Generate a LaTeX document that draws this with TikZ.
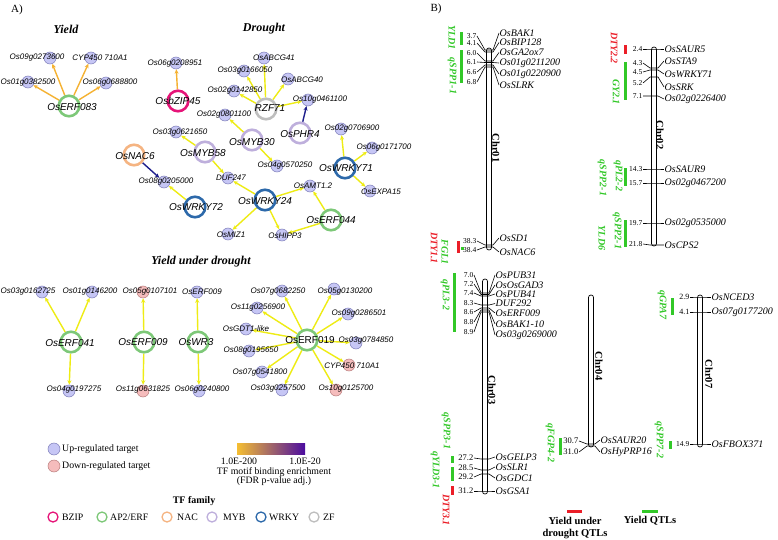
\documentclass[tikz,border=0pt]{standalone}
\usepackage{fontspec}
\setmainfont{Liberation Serif}
\newfontfamily\arialf{Liberation Sans}
\usetikzlibrary{arrows.meta}
\pgfdeclarelayer{bg}
\pgfdeclarelayer{edges}
\pgfsetlayers{bg,edges,main}
\definecolor{upfill}{RGB}{198,198,245}
\definecolor{updraw}{RGB}{125,125,185}
\definecolor{dnfill}{RGB}{245,188,188}
\definecolor{dndraw}{RGB}{185,125,125}
\definecolor{yel}{RGB}{238,236,20}
\definecolor{orgc}{RGB}{245,178,50}
\definecolor{navyc}{RGB}{30,30,140}
\definecolor{bzipc}{RGB}{230,20,120}
\definecolor{erfc}{RGB}{125,200,120}
\definecolor{nacc}{RGB}{245,180,130}
\definecolor{mybc}{RGB}{190,175,220}
\definecolor{wrkyc}{RGB}{45,105,170}
\definecolor{zfc}{RGB}{190,190,190}
\definecolor{qgreen}{RGB}{50,200,40}
\definecolor{qred}{RGB}{235,30,40}
\definecolor{gA}{RGB}{245,190,50}
\definecolor{gB}{RGB}{205,70,120}
\definecolor{gC}{RGB}{75,12,160}
\newcount\mkc
\newcommand\chrmark[9]{%
  \global\advance\mkc by 1
  \draw[tick] (#1,#4) -- (#2-4,#5) -- (#2+4,#5) -- (#3,#6);
  \node[numf,font=\fontsize{#9}{#9}\selectfont,anchor=east] (mn\the\mkc) at (#1-0.5,#4) {#7};
  \node[genf,anchor=west] (mg\the\mkc) at (#3+0.5,#6) {#8};
}
\begin{document}
\begin{tikzpicture}[x=1pt,y=-1pt,
  tgt/.style={circle,fill=upfill,draw=updraw,line width=0.5pt,minimum size=12pt,inner sep=0pt},
  tgd/.style={tgt,fill=dnfill,draw=dndraw},
  tfr/.style={circle,draw,line width=2.6pt,fill=white,minimum size=20.5pt,inner sep=0pt},
  glab/.style={font=\arialf\itshape\fontsize{8}{8}\selectfont,inner sep=0pt},
  tlab/.style={font=\arialf\itshape\fontsize{10}{10}\selectfont,inner sep=0pt},
  ye/.style={draw=yel,line width=1.4pt,-{Stealth[length=4.5pt,width=4pt]}},
  oe/.style={ye,draw=orgc},
  ne/.style={ye,draw=navyc},
  ttl/.style={font=\bfseries\itshape\fontsize{12}{12}\selectfont,inner sep=0pt},
  lfont/.style={font=\fontsize{9.8}{9.8}\selectfont,inner sep=0pt},
  fam/.style={circle,draw,line width=1.3pt,minimum size=10pt,inner sep=0pt},
  chr/.style={draw=black,line width=0.7pt,fill=white,rounded corners=2.4pt},
  tick/.style={draw=black,line width=0.6pt},
  numf/.style={inner sep=0pt},
  genf/.style={font=\itshape\fontsize{10}{10}\selectfont,inner sep=0pt},
  qtl/.style={font=\bfseries\itshape\fontsize{10}{10}\selectfont,rotate=-90,inner sep=0pt},
  chrl/.style={font=\bfseries\fontsize{10.5}{10.5}\selectfont,rotate=-90,inner sep=0pt},
  qg/.style={fill=qgreen},
  qr/.style={fill=qred}]
\useasboundingbox (0,0) rectangle (778,540);
\begin{pgfonlayer}{bg}
\fill[white] (0,0) rectangle (778,540);
\end{pgfonlayer}

% ---------- panel labels and titles
\node[font=\fontsize{11}{11}\selectfont,inner sep=0pt] (pA) at (17,10) {A)};
\node[font=\fontsize{11}{11}\selectfont,inner sep=0pt] (pB) at (436,9) {B)};
\node[ttl] (t1) at (66,29) {Yield};
\node[ttl] (t2) at (264,29) {Drought};
\node[ttl] (t3) at (201,262) {Yield under drought};

% ---------- Yield
\node[tfr,draw=erfc] (erf083) at (69,106) {};
\node[tgt] (y1) at (50,58) {};
\node[tgt] (y2) at (91,58) {};
\node[tgt] (y3) at (28,82) {};
\node[tgt] (y4) at (106,83) {};
\node[tlab] (erf083l) at (72,107) {OsERF083};
\node[glab] (y1l) at (37,58) {Os09g0273600};
\node[glab] (y2l) at (100,58) {CYP450 710A1};
\node[glab] (y3l) at (28,83) {Os01g0382500};
\node[glab] (y4l) at (110,83) {Os06g0688800};

% ---------- Drought
\node[tfr,draw=bzipc] (bzip45) at (178,101) {};
\node[tgt] (d1) at (176,63) {};
\node[tfr,draw=zfc] (rzf71) at (266,109) {};
\node[tgt] (d2) at (264,58) {};
\node[tgt] (d3) at (244,71) {};
\node[tgt] (d4) at (288,79) {};
\node[tgt] (d5) at (234,91) {};
\node[tgt] (d6) at (308,100) {};
\node[tfr,draw=mybc] (phr4) at (300,133) {};
\node[tfr,draw=mybc] (myb30) at (252,140) {};
\node[tgt] (d7) at (225,115) {};
\node[tgt] (d8) at (277,166) {};
\node[tfr,draw=mybc] (myb58) at (205,152) {};
\node[tgt] (d9) at (176,132) {};
\node[tgt] (d10) at (228,178) {};
\node[tfr,draw=nacc] (nac6) at (134,155) {};
\node[tgt] (d11) at (164,182) {};
\node[tfr,draw=wrkyc] (wrky72) at (195,207) {};
\node[tfr,draw=wrkyc] (wrky24) at (265,200) {};
\node[tgt] (d12) at (310,186) {};
\node[tgt] (d13) at (228,234) {};
\node[tgt] (d14) at (282,235) {};
\node[tfr,draw=erfc] (erf044) at (331,220) {};
\node[tfr,draw=wrkyc] (wrky71) at (345,168) {};
\node[tgt] (d15) at (341,129) {};
\node[tgt] (d16) at (372,148) {};
\node[tgt] (d17) at (370,191) {};

\node[tlab] (bzip45l) at (178,101) {OsbZIP45};
\node[glab] (d1l) at (175,64) {Os06g0208951};
\node[tlab] (rzf71l) at (270,108) {RZF71};
\node[glab] (d2l) at (274,58) {OsABCG41};
\node[glab] (d3l) at (245,71) {Os03g0166050};
\node[glab] (d4l) at (302,80) {OsABCG40};
\node[glab] (d5l) at (235,91) {Os02g0142850};
\node[glab] (d6l) at (320,100) {Os10g0461100};
\node[tlab] (phr4l) at (300,134) {OsPHR4};
\node[tlab] (myb30l) at (252,142) {OsMYB30};
\node[glab] (d7l) at (224,115) {Os02g0801100};
\node[glab] (d8l) at (285,166) {Os04g0570250};
\node[tlab] (myb58l) at (203,153) {OsMYB58};
\node[glab] (d9l) at (180,133) {Os03g0621650};
\node[glab] (d10l) at (231,178) {DUF247};
\node[tlab] (nac6l) at (135,156) {OsNAC6};
\node[glab] (d11l) at (166,182) {Os08g0205000};
\node[tlab] (wrky72l) at (196,207) {OsWRKY72};
\node[tlab] (wrky24l) at (265,201) {OsWRKY24};
\node[glab] (d12l) at (313,186) {OsAMT1.2};
\node[glab] (d13l) at (231,235) {OsMIZ1};
\node[glab] (d14l) at (285,236) {OsHIPP3};
\node[tlab] (erf044l) at (331,220) {OsERF044};
\node[tlab] (wrky71l) at (346,168) {OsWRKY71};
\node[glab] (d15l) at (352,129) {Os02g0706900};
\node[glab] (d16l) at (384,148) {Os06g0171700};
\node[glab] (d17l) at (381,192) {OsEXPA15};

% ---------- Yield under drought
\node[tfr,draw=erfc] (erf041) at (71,342) {};
\node[tgt] (u1) at (42,292) {};
\node[tgt] (u2) at (92,292) {};
\node[tgt] (u3) at (69,391) {};
\node[tfr,draw=erfc] (erf009) at (144,342) {};
\node[tgd] (u4) at (143,292) {};
\node[tgd] (u5) at (143,391) {};
\node[tfr,draw=erfc] (wr3) at (198,342) {};
\node[tgt] (u6) at (197,292) {};
\node[tgt] (u7) at (199,391) {};
\node[tfr,draw=erfc] (erf019) at (307,340) {};
\node[tgt] (u8) at (282,291) {};
\node[tgt] (u9) at (334,289) {};
\node[tgt] (u10) at (257,308) {};
\node[tgt] (u11) at (348,314) {};
\node[tgt] (u12) at (246,329) {};
\node[tgt] (u13) at (356,343) {};
\node[tgt] (u14) at (249,351) {};
\node[tgd] (u15) at (349,365) {};
\node[tgt] (u16) at (262,372) {};
\node[tgt] (u17) at (282,390) {};
\node[tgd] (u18) at (336,390) {};

\node[tlab] (erf041l) at (70,343) {OsERF041};
\node[glab] (u1l) at (28,292) {Os03g0162725};
\node[glab] (u2l) at (90,292) {Os01g0146200};
\node[glab] (u3l) at (74,390) {Os04g0197275};
\node[tlab] (erf009l) at (143,342) {OsERF009};
\node[glab] (u4l) at (150,292) {Os05g0107101};
\node[glab] (u5l) at (143,390) {Os11g0631825};
\node[tlab] (wr3l) at (196,342) {OsWR3};
\node[glab] (u6l) at (202,292) {OsERF009};
\node[glab] (u7l) at (202,390) {Os06g0240800};
\node[tlab,font=\arialf\fontsize{10}{10}\selectfont] (erf019l) at (310,340) {OsERF019};
\node[glab] (u8l) at (278,292) {Os07g0682250};
\node[glab] (u9l) at (345,292) {Os05g0130200};
\node[glab] (u10l) at (258,308) {Os11g0256900};
\node[glab] (u11l) at (359,314) {Os09g0286501};
\node[glab] (u12l) at (246,329) {OsGDT1-like};
\node[glab] (u13l) at (366,341) {Os03g0784850};
\node[glab] (u14l) at (251,351) {Os08g0195650};
\node[glab] (u15l) at (352,366) {CYP450 710A1};
\node[glab] (u16l) at (260,373) {Os07g0541800};
\node[glab] (u17l) at (278,389) {Os03g0257500};
\node[glab] (u18l) at (346,389) {Os10g0125700};

\begin{pgfonlayer}{edges}
\foreach \t in {y1,y2,y3,y4} \draw[oe] (erf083) -- (\t);
\draw[oe] (bzip45) -- (d1);
\foreach \t in {d2,d3,d4,d5,d6} \draw[ye] (rzf71) -- (\t);
\draw[ne] (phr4) -- (d6);
\draw[ye] (myb30) -- (d7);
\draw[ye] (myb30) -- (d8);
\draw[ye] (myb58) -- (d9);
\draw[ye] (myb58) -- (d10);
\draw[ne] (nac6) -- (d11);
\draw[ye] (wrky72) -- (d11);
\foreach \t in {d10,d12,d13,d14} \draw[ye] (wrky24) -- (\t);
\draw[ye] (erf044) -- (d12);
\draw[ye] (erf044) -- (d14);
\foreach \t in {d15,d16,d17} \draw[ye] (wrky71) -- (\t);
\foreach \t in {u1,u2,u3} \draw[ye] (erf041) -- (\t);
\foreach \t in {u4,u5} \draw[ye] (erf009) -- (\t);
\foreach \t in {u6,u7} \draw[ye] (wr3) -- (\t);
\foreach \t in {u8,u9,u10,u11,u12,u13,u14,u15,u16,u17,u18} \draw[ye] (erf019) -- (\t);
\end{pgfonlayer}

% ---------- legend A
\node[tgt] (lu) at (54,449) {};
\node[lfont,anchor=west] (lut) at (62,449) {Up-regulated target};
\node[tgd] (ld) at (54,466) {};
\node[lfont,anchor=west] (ldt) at (62,466) {Down-regulated target};
\shade[left color=gA,middle color=gB,right color=gC] (237,443) rectangle (305,454);
\node[lfont] (g1t) at (239,461) {1.0E-200};
\node[lfont] (g2t) at (305,461) {1.0E-20};
\node[lfont] (g3t) at (274,472) {TF motif binding enrichment};
\node[lfont] (g4t) at (274,481) {(FDR p-value adj.)};
\node[lfont,font=\bfseries\fontsize{10}{10}\selectfont] (tff) at (194,501) {TF family};
\node[fam,draw=bzipc] (f1) at (53,517) {};
\node[lfont,anchor=west] (f1t) at (62,517) {BZIP};
\node[fam,draw=erfc] (f2) at (102,517) {};
\node[lfont,anchor=west] (f2t) at (110,517) {AP2/ERF};
\node[fam,draw=nacc] (f3) at (167,517) {};
\node[lfont,anchor=west] (f3t) at (177,517) {NAC};
\node[fam,draw=mybc] (f4) at (212,517) {};
\node[lfont,anchor=west] (f4t) at (223,517) {MYB};
\node[fam,draw=wrkyc] (f5) at (261,517) {};
\node[lfont,anchor=west] (f5t) at (269,517) {WRKY};
\node[fam,draw=zfc] (f6) at (314,517) {};
\node[lfont,anchor=west] (f6t) at (323,517) {ZF};

% ---------- panel B: chromosomes
\draw[chr] (486.5,48) rectangle (491.5,250);
\draw[chr] (651.5,47) rectangle (656.5,246);
\draw[chr] (482.5,279) rectangle (487.5,494);
\draw[chr] (588.5,295) rectangle (593.5,447);
\draw[chr] (697.5,295) rectangle (702.5,447);
\node[chrl] (c1) at (496,148) {Chr01};
\node[chrl] (c2) at (660,135) {Chr02};
\node[chrl] (c3) at (492,390) {Chr03};
\node[chrl] (c4) at (599,366) {Chr04};
\node[chrl] (c7) at (709,374) {Chr07};

% Chr01
\chrmark{477}{489}{499}{36}{50}{33}{3.7}{OsBAK1}{7.5}
\chrmark{477}{489}{499}{43}{52}{42.5}{4.1}{OsBIP128}{7.5}
\chrmark{477}{489}{499}{53}{61}{52.5}{6.0}{OsGA2ox7}{7.5}
\chrmark{477}{489}{499}{62}{62.5}{63}{6.1}{Os01g0211200}{7.5}
\chrmark{477}{489}{499}{72}{65}{74}{6.6}{Os01g0220900}{7.5}
\chrmark{477}{489}{499}{82}{67}{85}{6.8}{OsSLRK}{7.5}
\chrmark{477}{489}{499}{241}{245}{238}{38.3}{OsSD1}{7.5}
\chrmark{477}{489}{499}{250}{247}{252}{38.4}{OsNAC6}{7.5}
% Chr02
\chrmark{643}{654}{664}{49}{49}{49}{2.4}{OsSAUR5}{7.5}
\chrmark{643}{654}{664}{63}{68}{61}{4.3}{OsSTA9}{7.5}
\chrmark{643}{654}{664}{72}{70}{74}{4.5}{OsWRKY71}{7.5}
\chrmark{643}{654}{664}{83}{77}{87}{5.2}{OsSRK}{7.5}
\chrmark{643}{654}{664}{96}{96}{99}{7.1}{Os02g0226400}{7.5}
\chrmark{643}{654}{664}{169}{169}{169}{14.3}{OsSAUR9}{7.5}
\chrmark{643}{654}{664}{183}{183}{183}{15.7}{Os02g0467200}{7.5}
\chrmark{643}{654}{664}{223}{223}{223}{19.7}{Os02g0535000}{7.5}
\chrmark{643}{654}{664}{244}{245}{245}{21.8}{OsCPS2}{7.5}
% Chr03
\chrmark{474}{485}{495}{275}{293}{275}{7.0}{OsPUB31}{7.5}
\chrmark{474}{485}{495}{284}{294.5}{285}{7.2}{OsOsGAD3}{7.5}
\chrmark{474}{485}{495}{293}{296}{294}{7.4}{OsPUB41}{7.5}
\chrmark{474}{485}{495}{303}{305}{303.5}{8.3}{DUF292}{7.5}
\chrmark{474}{485}{495}{312}{308}{313}{8.6}{OsERF009}{7.5}
\chrmark{474}{485}{495}{322}{310}{324}{8.8}{OsBAK1-10}{7.5}
\chrmark{474}{485}{495}{332}{312}{335}{8.9}{Os03g0269000}{7.5}
\chrmark{474}{485}{495}{458}{459}{457}{27.2}{OsGELP3}{8.5}
\chrmark{474}{485}{495}{468}{470}{467}{28.5}{OsSLR1}{8.5}
\chrmark{474}{485}{495}{477}{474}{478}{29.2}{OsGDC1}{8.5}
\chrmark{474}{485}{495}{491}{491}{491}{31.2}{OsGSA1}{8.5}
% Chr04
\chrmark{579}{591}{600}{441}{444}{440}{30.7}{OsSAUR20}{8.5}
\chrmark{579}{591}{600}{452}{446}{452}{31.0}{OsHyPRP16}{8.5}
% Chr07
\chrmark{690}{700}{711}{297}{297}{297}{2.9}{OsNCED3}{8}
\chrmark{690}{700}{711}{312}{312}{312}{4.1}{Os07g0177200}{8}
\chrmark{690}{700}{711}{444}{444}{444}{14.9}{OsFBOX371}{7.5}

% QTL bars
\fill[qg] (459.5,32) rectangle (462.5,45);
\fill[qg] (459.5,50) rectangle (462.5,83);
\fill[qr] (456.5,241) rectangle (459.5,253);
\fill[qg] (460.5,247) rectangle (463.5,250);
\fill[qr] (624,45) rectangle (627,54);
\fill[qg] (624,62) rectangle (627,100);
\fill[qg] (624,168) rectangle (627,186);
\fill[qg] (624,220) rectangle (627,247);
\fill[qg] (453,273) rectangle (456,332);
\fill[qg] (450.5,456) rectangle (453.5,463);
\fill[qg] (450.5,467) rectangle (453.5,481);
\fill[qr] (450.5,486) rectangle (453.5,495);
\fill[qg] (558.5,438) rectangle (561.5,455);
\fill[qg] (670.5,298) rectangle (673.5,315);
\fill[qg] (669,441) rectangle (672,449);

% QTL labels
\node[qtl,text=qgreen] (q1) at (452,37.5) {YLD1};
\node[qtl,text=qgreen] (q2) at (452,76) {qSPP1-1};
\node[qtl,text=qred] (q3) at (434,248) {DTY1.1};
\node[qtl,text=qgreen] (q4) at (445,252) {FGL1};
\node[qtl,text=qred] (q5) at (614,48) {DTY2.2};
\node[qtl,text=qgreen] (q6) at (616,92) {GY2.1};
\node[qtl,text=qgreen] (q7) at (618,176) {qPL2-2};
\node[qtl,text=qgreen] (q8) at (602,178) {qSPP2-1};
\node[qtl,text=qgreen] (q9) at (617,231) {qSPP2-1};
\node[qtl,text=qgreen] (q10) at (602,238) {YLD6};
\node[qtl,text=qgreen] (q11) at (445,295) {qPL3-2};
\node[qtl,text=qgreen] (q12) at (446,431) {qSPP3-1};
\node[qtl,text=qgreen] (q13) at (435,470) {qYLD3-1};
\node[qtl,text=qred] (q14) at (446,510) {DTY3.1};
\node[qtl,text=qgreen] (q15) at (550,443) {qFGP4-2};
\node[qtl,text=qgreen] (q16) at (662,305) {qGPA7};
\node[qtl,text=qgreen] (q17) at (659,440) {qSPP7-2};

% legend B
\draw[qred,line width=3pt] (567,511) -- (582,511);
\draw[qgreen,line width=3pt] (642,511) -- (658,511);
\node[font=\bfseries\fontsize{10.5}{10.5}\selectfont,inner sep=0pt] (lb1) at (575,521) {Yield under};
\node[font=\bfseries\fontsize{10.5}{10.5}\selectfont,inner sep=0pt] (lb2) at (575,534) {drought QTLs};
\node[font=\bfseries\fontsize{10.5}{10.5}\selectfont,inner sep=0pt] (lb3) at (650,521) {Yield QTLs};
\end{tikzpicture}
\end{document}
